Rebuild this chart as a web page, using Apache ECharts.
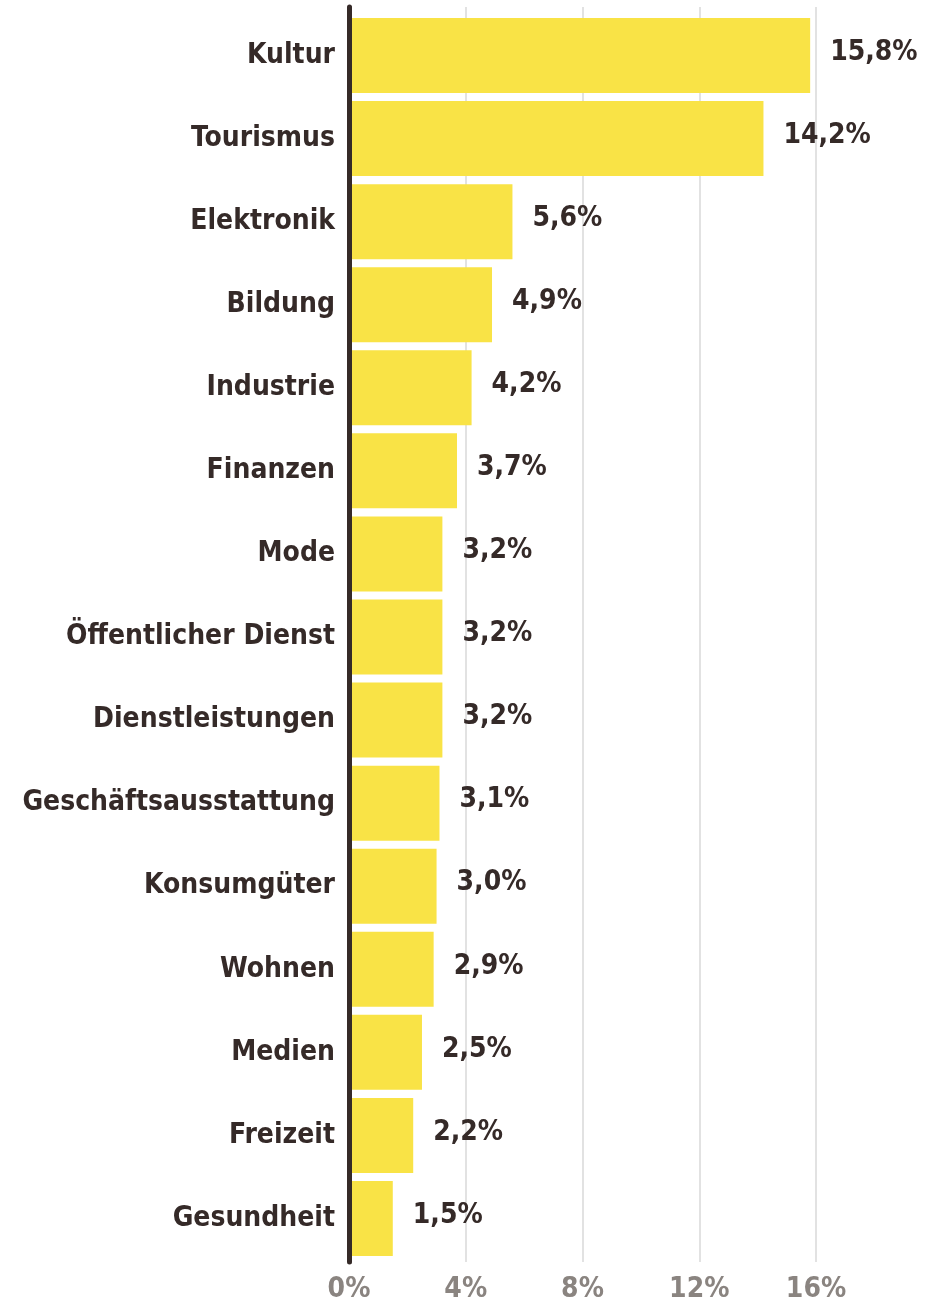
<!DOCTYPE html>
<html>
<head>
<meta charset="utf-8">
<script src="https://cdn.jsdelivr.net/npm/echarts@6/dist/echarts.min.js"></script>
<style>
html,body{margin:0;padding:0;background:#fff;}
#chart{width:937px;height:1304px;}
</style>
</head>
<body>
<div id="chart"></div>
<script>
const categories = ["Kultur","Tourismus","Elektronik","Bildung","Industrie","Finanzen","Mode","Öffentlicher Dienst","Dienstleistungen","Geschäftsausstattung","Konsumgüter","Wohnen","Medien","Freizeit","Gesundheit"];
const values = [15.8,14.2,5.6,4.9,4.2,3.7,3.2,3.2,3.2,3.1,3.0,2.9,2.5,2.2,1.5];
const tickValues = [0,4,8,12,16];

const FONT = "DejaVu Sans Condensed";
const DARK = "#352a28";
const chart = echarts.init(document.getElementById('chart'), null, {renderer:'canvas'});
chart.setOption({
  animation:false,
  backgroundColor:'#fff',
  grid:[
    {left:349, width:467, top:14, bottom:1304-1260, containLabel:false},
    {left:349, width:467, top:7, bottom:1304-1268, containLabel:false}
  ],
  xAxis:[
    {gridIndex:0, type:'value', min:0, max:16, interval:4, show:false},
    {gridIndex:1, type:'value', min:tickValues[0], max:tickValues[tickValues.length-1], interval:4,
     axisLine:{show:false}, axisTick:{show:false},
     splitLine:{show:true, lineStyle:{color:'#e2e2e2', width:2}},
     axisLabel:{show:true, margin:14, color:'#8a8480', fontFamily:FONT, fontWeight:'bold', fontSize:28,
       formatter:v=>v+'%'}}
  ],
  yAxis:[
    {gridIndex:0, type:'category', data:categories, inverse:true,
     axisLine:{show:false}, axisTick:{show:false}, splitLine:{show:false},
     axisLabel:{margin:14, color:DARK, fontFamily:FONT, fontWeight:'bold', fontSize:28}},
    {gridIndex:1, type:'value', min:0, max:1, position:'left', z:10,
     axisLine:{show:true, onZero:false, lineStyle:{color:DARK, width:5}},
     axisTick:{show:false}, axisLabel:{show:false}, splitLine:{show:false}}
  ],
  series:[{
    type:'bar', xAxisIndex:0, yAxisIndex:0, data:values, barWidth:75,
    itemStyle:{color:'#f9e346'},
    label:{show:true, position:'right', distance:20, color:DARK, fontFamily:FONT, fontWeight:'bold', fontSize:28,
      offset:[0,-3],
      formatter:p=>p.value.toFixed(1).replace('.',',')+'%'}
  }]
});
</script>
</body>
</html>
